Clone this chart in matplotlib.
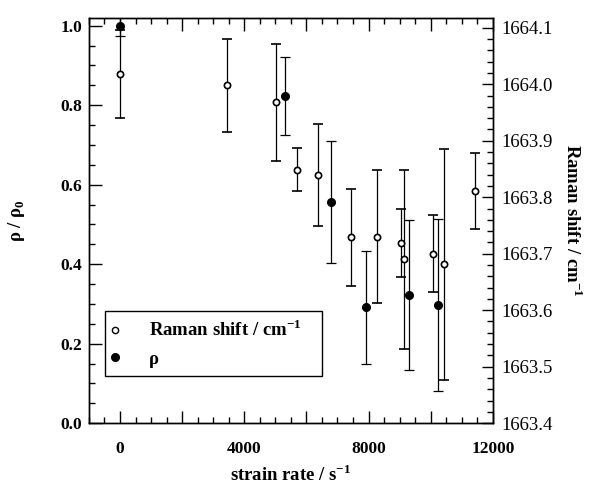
import matplotlib
matplotlib.use('Agg')
import matplotlib.pyplot as plt
from matplotlib.lines import Line2D
from matplotlib.ticker import MultipleLocator
import numpy as np

plt.rcParams['font.family'] = ['Liberation Serif', 'DejaVu Serif']
plt.rcParams['mathtext.fontset'] = 'custom'
plt.rcParams['mathtext.rm'] = 'Liberation Serif'
plt.rcParams['mathtext.bf'] = 'Liberation Serif:bold'

# Raman shift (open circles, right axis)
raman_rate = [0, 3456, 5035, 5686, 6368, 7446, 8288, 9045, 9152, 10080, 10443, 11413]
raman_shift = [1664.018, 1663.998, 1663.968, 1663.849, 1663.839, 1663.729,
               1663.730, 1663.719, 1663.690, 1663.700, 1663.681, 1663.811]
raman_err = [0.078, 0.083, 0.104, 0.038, 0.090, 0.086, 0.118, 0.060, 0.158, 0.068, 0.205, 0.067]

# rho / rho0 (filled circles, left axis)
rho_rate = [0, 5302, 6806, 7914, 9302, 10240]
rho_ratio = [1.0, 0.823, 0.556, 0.291, 0.322, 0.297]
rho_err = [0.025, 0.099, 0.154, 0.143, 0.188, 0.216]

fig = plt.figure(figsize=(5.93, 4.92), dpi=100)
ax = fig.add_axes([0.150, 0.140, 0.681, 0.823])
ax2 = ax.twinx()

ax.errorbar(rho_rate, rho_ratio, yerr=rho_err, fmt='o', color='black', ms=5.5,
            capsize=3.5, elinewidth=0.9, capthick=0.9)
ax2.errorbar(raman_rate, raman_shift, yerr=raman_err, fmt='o', color='black', mfc='white',
             mec='black', mew=1.2, ms=4.5, capsize=3.5, elinewidth=0.9, capthick=0.9)

ax.set_xlim(-1000, 12000)
ax.set_ylim(0, 1.019)
ax2.set_ylim(1663.4, 1664.117)

ax.xaxis.set_major_locator(MultipleLocator(2000))
ax.xaxis.set_minor_locator(MultipleLocator(500))
ax.xaxis.set_major_formatter(lambda v, p: f'{v:.0f}' if v % 4000 == 0 else '')
ax.yaxis.set_major_locator(MultipleLocator(0.2))
ax.yaxis.set_minor_locator(MultipleLocator(0.05))
ax.yaxis.set_major_formatter(lambda v, p: f'{v:.1f}')
ax2.yaxis.set_major_locator(MultipleLocator(0.1))
ax2.yaxis.set_minor_locator(MultipleLocator(0.02))
ax2.yaxis.set_major_formatter(lambda v, p: f'{v:.1f}')

ax.tick_params(which='both', direction='in', top=True, right=False, width=1.0)
ax.tick_params(which='major', length=9, labelsize=12.5)
ax.tick_params(which='minor', length=4.5)
ax.tick_params(axis='x', pad=13)
ax.tick_params(axis='y', pad=5)
ax2.tick_params(which='both', direction='in', width=1.0)
ax2.tick_params(which='major', length=8, labelsize=13.5, pad=6)
ax2.tick_params(which='minor', length=4)
for lab in ax.get_xticklabels() + ax.get_yticklabels():
    lab.set_fontweight('bold')

for a in (ax, ax2):
    for s in a.spines.values():
        s.set_linewidth(1.0)

ax.set_xlabel(r'strain rate / s$^{\mathbf{-1}}$', fontsize=13.5, fontweight='bold', labelpad=5)
ax.set_ylabel(r'ρ / ρ$_{\mathbf{0}}$', fontsize=13.5, fontweight='bold', labelpad=24)
ax2.set_ylabel(r'Raman shift / cm$^{\mathbf{-1}}$', fontsize=13.5, fontweight='bold',
               rotation=-90, labelpad=22)

handles = [Line2D([], [], ls='none', marker='o', mfc='white', mec='black', mew=1.0, ms=4.5),
           Line2D([], [], ls='none', marker='o', color='black', ms=5.5)]
leg = ax2.legend(handles, [r'Raman shift / cm$^{\mathbf{-1}}$', 'ρ'],
                 loc='upper left', bbox_to_anchor=(0.04, 0.109, 0.537, 0.168), mode='expand',
                 borderaxespad=0, fancybox=False, edgecolor='black', framealpha=1,
                 borderpad=0.45, handlelength=0.2, handletextpad=1.7, labelspacing=0.55,
                 prop={'family': 'Liberation Serif', 'weight': 'bold', 'size': 13.5})
leg.get_frame().set_linewidth(1.0)

fig.savefig('out.png', dpi=100)
